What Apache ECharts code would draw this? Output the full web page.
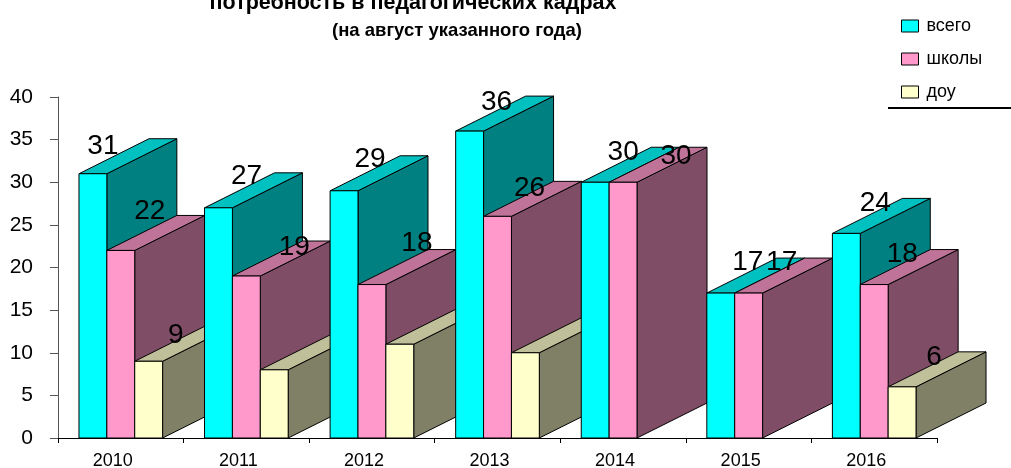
<!DOCTYPE html>
<html>
<head>
<meta charset="utf-8">
<style>
  html, body { margin: 0; padding: 0; background: #fff; }
  #root { width: 1011px; height: 468px; }
</style>
<script src="https://cdn.jsdelivr.net/npm/echarts@6/dist/echarts.min.js"></script>
</head>
<body>
<div id="root"></div>
<script>
const categories = ['2010', '2011', '2012', '2013', '2014', '2015', '2016'];
const vsego = [31, 27, 29, 36, 30, 17, 24];
const shkoly = [22, 19, 18, 26, 30, 17, 18];
const dou = [9, 8, 11, 10, null, null, 6];

const FONT = '"Liberation Sans", Arial, sans-serif';
const DEPTH_X = 70;
const DEPTH_Y = 35;
const BAR_SHARE = 0.222; // ширина одного столбика от ширины категории

// подписи в оригинале сдвинуты вручную: [dx, dy] от верха столбика, null - подписи нет
const shiftVsego = [[10, -27], [28, -32], [26, -31], [27, -29], [28, -30], [27, -31], [29, -30]];
const shiftShkoly = [[29, -39], [48, -29], [45, -41], [32, -28], [53, -26], [33, -31], [28, -30]];
const shiftDou = [[27, -26], null, null, null, null, null, [32, -30]];

const makeSeries = (name, values, slot, colors, shifts) => ({
  name,
  type: 'custom',
  itemStyle: { color: colors[0], borderColor: '#000', borderWidth: 1 },
  data: values.map((v, i) => [i, v]),
  encode: { x: 0, y: 1 },
  renderItem: (params, api) => {
    const i = api.value(0);
    const v = api.value(1);
    if (isNaN(v)) return null;
    const band = api.size([1, 0])[0];
    const w = band * BAR_SHARE;
    const top = api.coord([i, v]);
    const bottom = api.coord([i, 0]);
    const x0 = top[0] + (slot - 1.5) * w;
    const x1 = x0 + w;
    const y0 = top[1];
    const y1 = bottom[1];
    const z2 = i * 10 + slot;
    const line = { stroke: '#000', lineWidth: 1 };
    const shift = shifts[i];
    const children = [
      {
        type: 'polygon',
        z2,
        shape: { points: [[x1, y0], [x1 + DEPTH_X, y0 - DEPTH_Y], [x1 + DEPTH_X, y1 - DEPTH_Y], [x1, y1]] },
        style: { fill: colors[1], ...line },
      },
      {
        type: 'polygon',
        z2,
        shape: { points: [[x0, y0], [x0 + DEPTH_X, y0 - DEPTH_Y], [x1 + DEPTH_X, y0 - DEPTH_Y], [x1, y0]] },
        style: { fill: colors[2], ...line },
      },
      {
        type: 'rect',
        z2,
        shape: { x: x0, y: y0, width: w, height: y1 - y0 },
        style: { fill: colors[0], ...line },
      },
    ];
    if (shift) {
      children.push({
        type: 'text',
        z2: 1000,
        style: {
          text: String(v),
          x: (x0 + x1) / 2 + shift[0],
          y: y0 + shift[1],
          align: 'center',
          verticalAlign: 'middle',
          fill: '#000',
          font: `28px ${FONT}`,
        },
      });
    }
    return { type: 'group', children };
  },
});

const chart = echarts.init(document.getElementById('root'), null, { renderer: 'canvas' });
chart.setOption({
  animation: false,
  backgroundColor: '#fff',
  title: [
    {
      text: 'потребность в педагогических кадрах',
      left: 408,
      top: -13,
      textAlign: 'center',
      textStyle: { fontFamily: FONT, fontWeight: 'bold', fontSize: 21.5, color: '#000' },
    },
    {
      text: '(на август указанного года)',
      left: 452,
      top: 16,
      textAlign: 'center',
      textStyle: { fontFamily: FONT, fontWeight: 'bold', fontSize: 18.5, color: '#000' },
    },
  ],
  legend: {
    orient: 'vertical',
    left: 896,
    top: 12,
    itemWidth: 17,
    itemHeight: 12,
    itemGap: 15,
    icon: 'rect',
    itemStyle: { borderColor: '#000', borderWidth: 1 },
    textStyle: { fontFamily: FONT, fontSize: 18, color: '#000', padding: [0, 0, 0, 3] },
    data: ['всего', 'школы', 'доу'],
  },
  grid: { left: 58, top: 97, width: 879, height: 341, outerBoundsMode: 'none' },
  xAxis: {
    type: 'category',
    data: categories,
    axisLine: { lineStyle: { color: '#000', width: 1 } },
    axisTick: { show: true, length: 5, lineStyle: { color: '#000' } },
    axisLabel: { fontFamily: FONT, fontSize: 18, color: '#000', margin: 14, padding: [0, 16, 0, 0] },
  },
  yAxis: {
    type: 'value',
    min: 0,
    max: 40,
    interval: 5,
    splitLine: { show: false },
    axisLine: { show: true, lineStyle: { color: '#555', width: 1 } },
    axisTick: { show: true, length: 8, lineStyle: { color: '#555' } },
    axisLabel: { fontFamily: FONT, fontSize: 21, color: '#000', margin: 25 },
  },
  graphic: [
    { type: 'line', shape: { x1: 888, y1: 108, x2: 1011, y2: 108 }, style: { stroke: '#000', lineWidth: 2 } },
  ],
  series: [
    makeSeries('всего', vsego, 0, ['#00ffff', '#008080', '#00c0c0'], shiftVsego),
    makeSeries('школы', shkoly, 1, ['#ff99cc', '#804d66', '#bf7399'], shiftShkoly),
    makeSeries('доу', dou, 2, ['#ffffcc', '#808066', '#bfbf99'], shiftDou),
  ],
});
</script>
</body>
</html>
